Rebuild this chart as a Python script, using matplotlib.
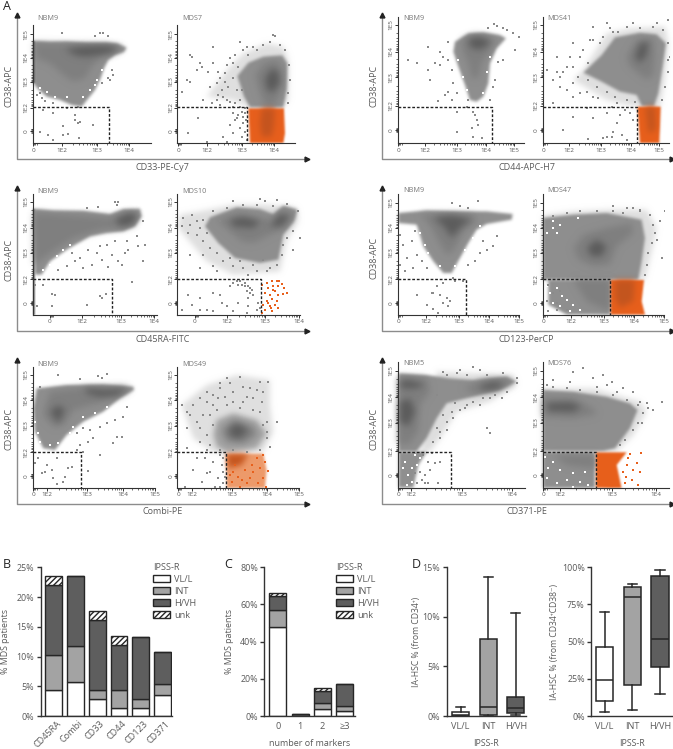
import numpy as np
import matplotlib
matplotlib.use('Agg')
import matplotlib.pyplot as plt
from matplotlib.patches import Patch
from matplotlib.transforms import ScaledTranslation

plt.rcParams['font.family'] = ['Open Sans', 'DejaVu Sans']
plt.rcParams['hatch.linewidth'] = 1.0

TXT = '#5a5a5a'
HALO, OUT, MID, DARK = '#dfdfdf', '#8f8f8f', '#7f7f7f', '#5c5c5c'
ORG, ORG_D = '#e8601c', '#c4551f'
W, H = 673, 749

############################## flow panels: channels ##############################
A1_OUT = [(100,122),(150,125),(200,124),(260,127),(320,127),(352,130),(380,143),(372,156),(345,165),(325,180),(312,205),(302,235),(285,270),(265,295),(245,320),(215,315),(180,300),(140,290),(112,265),(100,250)]
A1_MID = [(104,130),(200,132),(300,135),(365,140),(368,148),(335,160),(300,175),(275,200),(255,235),(220,245),(190,225),(150,190),(110,175)]
A1_DARK = [(195,147),(250,140),(320,137),(358,143),(335,158),(295,165),(255,170),(225,165)]
A1_STRIP = [(99,122),(106,122),(106,250),(99,250)]
A1_DOTS = [(187,100),(300,100),(310,98),(325,108),(285,107),(330,240),(340,225),(325,235),(305,250),(335,210),(120,280),(125,295),(110,285),(135,302),(160,310),(200,325),(235,320),(160,340),(225,345),(240,365),(235,370),(190,378),(205,403),(145,405),(120,395),(190,405),(237,415),(280,375),(160,420),(225,360),(130,330)]
A1_SPECK = [(120,265),(140,275),(165,290),(200,290),(250,290),(270,270),(290,240),(305,210),(285,255)]

A2_HALO = [(620,290),(690,200),(730,160),(800,130),(850,140),(865,180),(865,300),(850,322),(745,322),(700,300)]
A2_OUT = [(712,228),(745,188),(790,170),(847,166),(862,190),(860,270),(850,322),(750,322),(732,290)]
A2_MID = [(765,225),(790,190),(830,180),(850,210),(848,260),(825,320),(795,320),(780,280)]
A2_DARK = [(795,235),(815,205),(835,215),(840,250),(815,280),(800,265)]
A2_ORG = [(745,325),(852,325),(855,400),(850,430),(750,430)]
A2_ORG_D = [(785,325),(825,325),(822,375),(815,410),(785,410),(780,370)]
A2_DOTS = [(725,335),(715,345),(735,340),(705,360),(730,370),(720,385),(735,395),(700,400),(690,375),(725,410),(670,410),(680,425),(740,420),(595,355),(565,400),(620,425),(700,340),(712,355),(738,360),(728,352),(570,165),(600,190),(640,140),(720,125),(730,150),(825,108),(820,105),(655,215),(680,195),(630,260),(610,300),(560,240),(665,270),(680,300),(570,245),(545,275),
           (575,170),(590,210),(605,200),(625,215),(640,190),(650,250),(660,235),(675,220),(690,175),(705,165),(715,200),(700,235),(685,260),(670,290),(650,300),(635,310),(690,305),(705,310),(720,300),(725,270),(710,270),(740,140),(760,140),(790,135),(810,125),(840,135),(855,150),(868,195),(870,240),(865,280),(865,310),(720,320),(700,320),(735,325),(660,315),(655,285),(700,190),(675,245),(745,165),(770,150)]

A3_OUT = [(345,125),(385,100),(430,97),(480,105),(498,115),(470,145),(450,190),(445,250),(430,290),(410,305),(390,300),(375,255),(355,200),(340,155)]
A3_MID = [(365,120),(400,105),(470,115),(450,150),(425,190),(415,235),(395,235),(385,190),(370,160)]
A3_DARK = [(385,118),(415,110),(450,122),(445,135),(415,150),(390,140)]
A3_DOTS = [(500,90),(520,100),(462,72),(445,85),(490,85),(470,78),(537,110),(525,150),(265,140),(300,155),(285,190),(205,180),(230,190),(175,170),(265,210),(270,240),(325,125),(310,170),(325,180),(300,195),(335,210),(340,250),(325,275),(350,280),(295,302),(380,320),(400,335),(410,360),(395,385),(415,375),(350,395),(400,410),(425,415),(405,345),(460,260),(465,240),(475,185),(490,180),(450,300),(350,335),(385,300),(335,300),(315,285)]
A3_SPECK = [(355,180),(370,230),(380,270),(440,215),(450,170),(430,280)]

A4_HALO = [(730,210),(800,100),(870,85),(975,80),(985,130),(975,240),(960,320),(880,320),(800,300),(700,240)]
A4_OUT = [(730,218),(785,165),(825,112),(900,98),(950,103),(978,130),(968,200),(955,280),(942,318),(905,318),(890,285),(840,275),(785,245)]
A4_MID = [(860,170),(890,120),(940,115),(945,170),(940,225),(920,240),(870,200)]
A4_DARK = [(885,170),(900,130),(925,125),(920,165),(900,190)]
A4_ORG = [(892,320),(962,320),(958,430),(900,430)]
A4_ORG_D = [(915,320),(945,320),(948,390),(925,400)]
A4_DOTS = [(650,170),(620,210),(640,240),(680,200),(700,130),(760,80),(800,70),(880,68),(950,70),(985,60),(660,260),(700,290),(740,325),(700,350),(760,355),(800,340),(840,345),(830,370),(845,405),(820,395),(800,410),(790,415),(745,418),(670,390),(640,310),(720,280),(760,290),(830,310),(870,340),(855,330),(880,360),(860,420),(815,412),(985,180),(995,250),(750,120),(810,85),
           (730,150),(760,120),(790,110),(820,95),(860,80),(900,85),(940,80),(970,90),(985,130),(990,170),(985,215),(975,260),(965,300),(700,200),(715,230),(690,170),(670,215),(745,240),(770,260),(800,275),(825,290),(860,300),(885,305),(720,170),(745,190),(780,130),(700,250),(740,275),(775,295),(815,320),(650,215),(680,270),(660,230),(835,95)]

A5_OUT = [(100,92),(160,97),(250,98),(330,108),(370,93),(420,92),(425,115),(405,145),(370,160),(320,165),(270,175),(200,215),(150,250),(125,290),(105,290)]
A5_MID = [(104,105),(330,120),(370,110),(410,105),(405,135),(360,150),(300,155),(220,180),(150,225),(105,260)]
A5_DARK = [(345,125),(385,105),(415,110),(395,140),(360,145)]
A5_STRIP = [(99,92),(106,92),(106,410),(99,410)]
A5_DOTS = [(345,72),(355,72),(350,80),(260,90),(295,88),(215,225),(265,215),(300,205),(345,190),(380,190),(410,175),(415,205),(430,130),(435,200),(430,248),(305,245),(335,230),(355,250),(375,225),(385,215),(275,260),(225,250),(200,265),(250,270),(325,268),(365,260),(395,312),(130,320),(105,320),(155,348),(165,352),(155,385),(262,382),(300,355),(317,347),(112,385),(305,360),(240,240),(290,225),(320,200),(175,275)]
A5_SPECK = [(190,215),(170,235),(210,200),(150,260),(130,275)]

A6_HALO = [(540,110),(600,100),(700,80),(800,80),(890,90),(895,130),(860,190),(840,280),(700,290),(620,250),(560,180),(535,150)]
A6_OUT = [(630,118),(710,88),(780,93),(820,108),(850,83),(892,95),(882,130),(850,170),(835,245),(780,255),(705,240),(655,195),(615,145)]
A6_MID = [(650,125),(720,105),(790,120),(815,125),(850,95),(885,105),(860,145),(810,170),(760,195),(725,190),(690,160)]
A6_DARK_A = [(690,125),(730,118),(780,130),(760,150),(700,145)]
A6_DARK_B = [(810,145),(840,108),(870,115),(845,145)]
A6_ORG_DOTS = [(785,320),(800,315),(815,310),(830,310),(845,318),(852,330),(835,325),(820,325),(805,330),(795,345),(810,350),(825,340),(835,350),(850,348),(860,345),(815,362),(830,370),(800,370),(790,382),(810,385),(825,380),(835,390),(815,400),(795,395),(785,405),(812,390),(805,375),(838,310),(818,335)]
A6_DOTS = [(700,315),(715,320),(725,320),(735,315),(745,325),(690,325),(710,310),(740,340),(750,345),(760,350),(745,360),(775,375),(770,395),(780,390),(745,385),(740,405),(715,375),(700,400),(660,350),(640,345),(600,360),(565,350),(575,380),(600,395),(620,395),(640,400),(665,375),(680,385),(545,395),(735,325),(750,330),(720,310),(755,335),(650,280),(600,270),(570,230),(745,290),(770,280),(810,270),(880,215),(900,180),(905,225),(700,70),(780,62),(795,70),(830,65),
           (550,120),(570,140),(590,130),(610,125),(545,145),(565,165),(590,170),(610,190),(630,210),(650,225),(670,250),(700,265),(730,270),(760,260),(800,280),(830,260),(845,230),(860,180),(880,160),(640,100),(680,90),(730,80),(770,82),(820,85),(860,78),(895,100),(600,150),(575,110),(660,130),(620,165),(690,240),(720,250),(790,245),(850,200),(610,230),(640,265)]

A7_OUT = [(175,105),(260,97),(380,100),(440,100),(518,108),(515,125),(440,138),(410,155),(385,195),(360,240),(335,285),(310,285),(280,250),(250,205),(230,140),(175,135)]
A7_MID = [(240,110),(400,110),(410,130),(370,160),(340,220),(320,230),(295,190),(270,140)]
A7_DARK = [(280,118),(340,112),(395,125),(365,145),(335,180),(315,150),(300,135)]
A7_DOTS = [(337,75),(415,70),(360,85),(385,90),(180,170),(190,200),(215,190),(225,160),(200,240),(230,230),(245,250),(220,270),(260,270),(440,215),(430,190),(470,175),(460,205),(420,225),(405,250),(385,260),(340,300),(290,325),(280,345),(300,350),(275,345),(232,352),(260,382),(320,360),(330,370),(310,375),(325,385),(280,392),(295,405),(370,310),(345,310),(310,315),(180,260),(195,280)]
A7_SPECK = [(240,165),(255,200),(265,225),(300,265),(400,180),(375,215),(345,265),(420,145)]

A8_HALO = [(608,112),(700,100),(800,95),(920,95),(950,150),(940,200),(915,305),(608,305)]
A8_OUT = [(608,120),(700,110),(800,105),(905,125),(915,180),(905,250),(895,305),(812,305),(608,305),(608,250)]
A8_MID = [(700,210),(730,170),(800,150),(875,135),(880,165),(830,205),(810,260),(760,265),(715,245)]
A8_DARK = [(740,210),(770,185),(800,205),(785,235),(755,235)]
A8_LOW = [(625,305),(811,305),(811,410),(680,410),(625,380)]
A8_LOW_MID = [(700,305),(811,305),(811,400),(740,370)]
A8_ORG = [(812,306),(912,306),(905,370),(915,410),(812,410)]
A8_ORG_D = [(825,306),(885,306),(880,370),(840,390),(825,360)]
A8_DOTS = [(625,320),(640,345),(620,370),(650,375),(625,400),(660,340),(680,395),(610,350),(650,395),(960,130),(975,100),(965,240),(950,185),(820,85),(880,90),
           (640,115),(680,105),(720,100),(770,98),(820,100),(860,90),(900,95),(930,110),(940,140),(945,165),(935,195),(925,225),(920,260),(915,290),(900,100),(850,105)]
A8_SPECK = [(620,325),(630,345),(650,330),(665,355),(640,375),(615,395),(660,385),(680,365),(700,380),(690,400),(720,395),(640,150),(660,140),(620,165),(650,165),(640,130),(715,120)]

A9_OUT = [(110,100),(200,90),(310,88),(400,95),(402,105),(360,130),(310,170),(250,200),(200,240),(165,285),(130,280),(105,230),(100,160)]
A9_MID = [(150,110),(260,97),(370,95),(395,102),(350,125),(290,145),(220,165),(190,210),(160,215),(130,180),(140,140)]
A9_DARK_A = [(255,100),(320,105),(385,100),(350,122),(300,125),(260,115)]
A9_DARK_B = [(150,170),(175,150),(195,165),(175,205)]
A9_DOTS = [(175,60),(240,72),(295,62),(320,58),(305,70),(120,95),(380,155),(370,185),(345,195),(300,215),(320,205),(250,220),(270,225),(230,235),(280,250),(240,270),(265,260),(340,265),(367,247),(350,245),(300,300),(265,348),(215,335),(205,338),(170,310),(140,330),(135,350),(155,345),(125,355),(160,370),(195,365),(190,380),(170,388),(113,310),(105,325),(250,290),(230,285)]
A9_SPECK = [(120,260),(105,200),(115,235),(220,215),(250,185),(285,175),(150,270),(175,265),(320,155),(210,235)]

A10_HALO = [(545,150),(620,90),(710,60),(810,75),(810,150),(820,230),(790,290),(640,292),(580,250)]
A10_OUT = [(640,240),(650,195),(700,175),(770,195),(800,235),(770,280),(680,292),(650,275)]
A10_MID = [(665,225),(700,195),(760,215),(770,240),(730,265),(680,260)]
A10_DARK = [(685,225),(710,205),(745,225),(720,250),(695,245)]
A10_ORG = [(678,296),(790,296),(800,345),(795,400),(680,400)]
A10_ORG_D = [(680,297),(745,297),(725,330),(685,340)]
A10_ORG_DOTS = [(790,300),(795,320),(803,348),(790,370),(797,395),(740,385),(720,395),(700,350),(760,350),(770,310),(755,330),(735,345),(715,365),(695,380),(750,370),(775,385),(780,340),(725,375),(705,330),(690,360)]
A10_DOTS = [(660,300),(665,330),(670,350),(655,370),(670,385),(645,395),(620,355),(630,350),(590,310),(580,345),(605,380),(615,310),(555,395),(640,320),(660,395),(670,310),(675,365),(620,110),(680,70),(720,65),(780,80),(805,80),(660,100),(740,125),(760,130),(700,140),(640,150),(570,180),(545,150),(600,220),(560,280),(800,200),(830,200),(800,230),(780,170),
            (560,170),(580,150),(600,130),(620,140),(640,120),(660,85),(690,85),(700,110),(730,95),(750,100),(770,105),(790,110),(610,180),(630,180),(650,165),(680,150),(720,160),(760,165),(600,260),(620,240),(630,270),(590,200),(560,220),(800,250),(810,275),(780,285),(660,285),(700,285),(740,290),(620,285),(640,210),(790,210),(655,130),(675,125),(730,140),(785,140)]

A11_HALO = [(290,50),(520,60),(530,90),(450,140),(350,170),(300,250),(270,290),(240,290),(260,200),(280,130)]
A11_OUT = [(176,55),(260,60),(330,70),(400,75),(500,65),(530,80),(480,105),(400,125),(320,145),(290,190),(260,250),(230,290),(176,290)]
A11_LOW = [(176,290),(260,290),(235,330),(220,398),(176,398)]
A11_MID_A = [(176,65),(260,70),(270,110),(240,150),(235,230),(205,270),(176,265)]
A11_MID_B = [(370,100),(430,75),(500,72),(520,85),(470,105),(400,115)]
A11_DARK_A = [(180,80),(205,75),(255,88),(230,100),(185,100)]
A11_DARK_B = [(180,140),(210,130),(225,170),(205,215),(180,200)]
A11_DARK_C = [(415,95),(460,80),(495,85),(470,102),(430,105)]
A11_DOTS = [(250,300),(265,320),(240,350),(255,360),(245,375),(270,345),(285,325),(300,320),(295,385),(255,385),(275,295),(225,355),(265,385),(230,385),(450,235),(440,220),(310,50),(360,45),(420,45),(400,35),(340,190),(320,200),(300,230),(375,160),(420,150),(485,130),(530,70),
            (290,120),(320,60),(350,55),(380,60),(440,60),(490,55),(530,85),(500,110),(450,130),(400,140),(360,165),(335,170),(310,180),(290,220),(280,260),(300,250),(320,225),(345,145),(380,150),(430,130),(465,120)]
A11_SPECK = [(195,320),(215,340),(205,360),(230,330),(215,380),(200,390),(190,340),(240,310),(225,300)]

A12_HALO = [(608,100),(760,100),(900,140),(920,170),(880,240),(830,290),(608,290)]
A12_OUT = [(608,105),(700,110),(800,125),(870,145),(893,165),(870,220),(825,280),(790,288),(608,288)]
A12_MID = [(608,130),(700,130),(760,160),(770,178),(700,190),(608,185)]
A12_DARK = [(620,145),(690,142),(725,155),(700,170),(625,168)]
A12_LOW = [(608,292),(766,292),(766,398),(608,398)]
A12_LOW_MID = [(640,300),(766,300),(766,340),(680,330)]
A12_ORG = [(768,292),(860,292),(830,330),(845,400),(768,398)]
A12_ORG_DOTS = [(870,298),(902,295),(880,345),(890,325),(860,330),(850,350),(900,350),(855,385),(895,390),(875,375),(865,310),(858,365)]
A12_DOTS = [(700,50),(730,40),(640,75),(620,90),(760,70),(800,90),(850,100),(830,110),(900,140),(925,160),(965,140),(880,110),(905,205),(790,60),
            (640,95),(680,100),(720,105),(770,110),(820,120),(860,135),(895,150),(910,175),(895,205),(880,225),(855,255),(840,270),(610,80),(690,80),(770,95),(920,145),(940,165),(815,80)]
A12_SPECK = [(625,340),(640,320),(620,370),(650,385),(680,375),(700,355),(735,350),(745,390),(720,380),(660,345),(615,305),(700,395)]

# groups: crop origin, L axis corner, x label, y label
ROWS = [
    ((0, 0), 52, 478, 45, 920, 'CD33-PE-Cy7', (487, 503), (28, 258)),
    ((340, 0), 127, 478, 45, 995, 'CD44-APC-H7', (560, 503), (102, 258)),
    ((0, 178), 52, 460, 30, 920, 'CD45RA-FITC', (487, 484), (28, 245)),
    ((340, 178), 127, 460, 30, 995, 'CD123-PerCP', (560, 484), (102, 240)),
    ((0, 355), 52, 447, 15, 920, 'Combi-PE', (487, 471), (28, 222)),
    ((340, 355), 127, 447, 15, 995, 'CD371-PE', (560, 471), (102, 222)),
]
NAME_Y = {(0, 0): 57, (340, 0): 57, (0, 178): 40, (340, 178): 38, (0, 355): 27, (340, 355): 25}
XLAB4 = ['0', '1E2', '1E3', '1E4']
XLAB5 = ['0', '1E2', '1E3', '1E4', '1E5']
YLAB = ['1E5', '1E4', '1E3', '1E2', '0']
Y_ROW1 = [103, 173, 246, 323, 392]
Y_ROW1R = [75, 155, 232, 317, 390]
Y_ROW2 = [72, 149, 224, 304, 375]
Y_ROW2R = [75, 149, 224, 304, 375]
Y_ROW3 = [60, 136, 212, 291, 362]
Y_ROW3R = [48, 127, 203, 289, 360]

# name, crop, left, right, top, bottom, xticks, xlabels, yticks, gate(x,y), layers, dots, orange dots, white specks
PANELS = [
    ('NBM9', (0, 0), 98, 452, 75, 430, [100, 187, 292, 388], XLAB4, Y_ROW1, (328, 322),
     [(OUT, A1_OUT), (MID, A1_MID), (DARK, A1_DARK), ('#666666', A1_STRIP)], A1_DOTS, [], A1_SPECK),
    ('MDS7', (0, 0), 532, 886, 75, 430, [534, 622, 727, 822], XLAB4, Y_ROW1, (742, 322),
     [(HALO, A2_HALO), (OUT, A2_OUT), (MID, A2_MID), (DARK, A2_DARK), (ORG, A2_ORG), (ORG_D, A2_ORG_D)], A2_DOTS, [], []),
    ('NBM9', (340, 0), 174, 552, 50, 430, [175, 254, 350, 438, 522], XLAB5, Y_ROW1R, (455, 322),
     [(OUT, A3_OUT), (MID, A3_MID), (DARK, A3_DARK)], A3_DOTS, [], A3_SPECK),
    ('MDS41', (340, 0), 608, 988, 50, 430, [610, 688, 784, 872, 956], XLAB5, Y_ROW1R, (890, 322),
     [(HALO, A4_HALO), (OUT, A4_OUT), (MID, A4_MID), (DARK, A4_DARK), (ORG, A4_ORG), (ORG_D, A4_ORG_D)], A4_DOTS, [], []),
    ('NBM9', (0, 178), 98, 470, 48, 410, [150, 247, 362, 463], XLAB4, Y_ROW2, (335, 304),
     [(OUT, A5_OUT), (MID, A5_MID), (DARK, A5_DARK), ('#777777', A5_STRIP)], A5_DOTS, [], A5_SPECK),
    ('MDS10', (0, 178), 532, 900, 48, 410, [584, 681, 796, 897], XLAB4, Y_ROW2, (784, 304),
     [(HALO, A6_HALO), (OUT, A6_OUT), (MID, A6_MID), (DARK, A6_DARK_A), (DARK, A6_DARK_B)], A6_DOTS, A6_ORG_DOTS, []),
    ('NBM9', (340, 178), 174, 538, 48, 410, [175, 258, 358, 448, 538], XLAB5, Y_ROW2R, (378, 304),
     [(OUT, A7_OUT), (MID, A7_MID), (DARK, A7_DARK)], A7_DOTS, [], A7_SPECK),
    ('MDS47', (340, 178), 608, 972, 48, 410, [610, 692, 792, 882, 972], XLAB5, Y_ROW2R, (811, 304),
     [(HALO, A8_HALO), (OUT, A8_OUT), (MID, A8_MID), (DARK, A8_DARK), (OUT, A8_LOW), (MID, A8_LOW_MID), (ORG, A8_ORG), (ORG_D, A8_ORG_D)], A8_DOTS, [], A8_SPECK),
    ('NBM9', (0, 355), 98, 464, 35, 400, [100, 141, 260, 368, 464], XLAB5, Y_ROW3, (244, 291),
     [(OUT, A9_OUT), (MID, A9_MID), (DARK, A9_DARK_A), (DARK, A9_DARK_B)], A9_DOTS, [], A9_SPECK),
    ('MDS49', (0, 355), 532, 898, 35, 400, [534, 575, 695, 802, 898], XLAB5, Y_ROW3, (678, 291),
     [(HALO, A10_HALO), ('#a2a2a2', A10_OUT), (MID, A10_MID), (DARK, A10_DARK), ('#ee9a6a', A10_ORG), (ORG_D, A10_ORG_D)], A10_DOTS, A10_ORG_DOTS, []),
    ('NBM5', (340, 355), 174, 555, 20, 398, [175, 212, 365, 515], XLAB4, Y_ROW3R, (332, 290),
     [(HALO, A11_HALO), (OUT, A11_OUT), (OUT, A11_LOW), (MID, A11_MID_A), (MID, A11_MID_B), (DARK, A11_DARK_A), (DARK, A11_DARK_B), (DARK, A11_DARK_C)], A11_DOTS, [], A11_SPECK),
    ('MDS76', (340, 355), 608, 988, 20, 398, [610, 660, 815, 948], XLAB4, Y_ROW3R, (767, 290),
     [(HALO, A12_HALO), (OUT, A12_OUT), (MID, A12_MID), (DARK, A12_DARK), (OUT, A12_LOW), (MID, A12_LOW_MID), (ORG, A12_ORG)], A12_DOTS, A12_ORG_DOTS, A12_SPECK),
]
BLUR = {HALO: 16, OUT: 4, MID: 24, DARK: 24, ORG: 2, ORG_D: 18, '#a2a2a2': 16, '#ee9a6a': 3, '#666666': 1, '#777777': 1}

################################ bars and boxes ##################################
B_CATS = ['CD45RA', 'Combi', 'CD33', 'CD44', 'CD123', 'CD371']
B_LOW = [4.3, 5.8, 2.9, 1.4, 1.4, 3.5]
B_INT = [5.9, 5.9, 1.5, 3.0, 1.5, 1.8]
B_HIGH = [11.8, 11.8, 11.8, 7.6, 10.4, 5.5]
B_UNK = [1.5, 0, 1.5, 1.5, 0, 0]

C_CATS = ['0', '1', '2', '≥3']
C_LOW = [48, 0, 4, 2.5]
C_INT = [9, 0, 3, 3]
C_HIGH = [7.5, 1.3, 6.5, 11.8]
C_UNK = [1.5, 0, 1.5, 0]

D_CATS = ['VL/L', 'INT', 'H/VH']
D1_WLO = [0, 0.03, 0.07]
D1_Q1 = [0.03, 0.1, 0.27]
D1_MED = [0.07, 0.88, 0.84]
D1_Q3 = [0.44, 7.8, 1.95]
D1_WHI = [0.94, 14.0, 10.4]
D2_WLO = [2.9, 3.8, 14.8]
D2_Q1 = [9.9, 20.6, 33]
D2_MED = [24, 80, 52]
D2_Q3 = [46.6, 86.8, 94]
D2_WHI = [70.2, 89, 98]

C_WHITE, C_GREY, C_DGREY = 'white', '#a3a3a3', '#5e5e5e'


def soften(n):
    # blur so the nested polygons look like a density cloud
    def flt(im, dpi):
        pad = int(4 * n ** 0.5) + 4
        a = np.pad(im[..., 3], pad)
        for _ in range(n):
            a = (2 * a + np.roll(a, 1, 0) + np.roll(a, -1, 0)) / 4
            a = (2 * a + np.roll(a, 1, 1) + np.roll(a, -1, 1)) / 4
        out = np.zeros(a.shape + (4,))
        mask = im[..., 3] > 0.5
        if mask.any():
            out[..., :3] = im[mask][:, :3].mean(axis=0)
        out[..., 3] = a
        return out, -pad, -pad
    return flt


def minor_ticks(pos):
    res = []
    for a, b in zip(pos[:-1], pos[1:]):
        res += [a + (b - a) * np.log10(k) for k in range(2, 10)]
    return res


def add_ax(l, t, r, b):
    return fig.add_axes([l / W, 1 - b / H, (r - l) / W, (b - t) / H])


fig = plt.figure(figsize=(W / 100, H / 100), dpi=100)

over = fig.add_axes([0, 0, 1, 1], zorder=-1)
over.set_xlim(0, W)
over.set_ylim(H, 0)
over.axis('off')

for crop, x0, y0, y1, x1, xlab, xpos, ypos in ROWS:
    cx, cy = crop
    over.plot([cx + x0 / 3, cx + x0 / 3, cx + x1 / 3], [cy + y1 / 3, cy + y0 / 3, cy + y0 / 3], color='#8c8c8c', lw=1)
    over.plot(cx + x0 / 3, cy + y1 / 3, '^', color='#222222', ms=3.5)
    over.plot(cx + x1 / 3, cy + y0 / 3, '>', color='#222222', ms=3.5)
    over.text(cx + xpos[0] / 3, cy + xpos[1] / 3, xlab, color=TXT, fontsize=6.5, ha='center', va='center')
    over.text(cx + ypos[0] / 3, cy + ypos[1] / 3, 'CD38-APC', color=TXT, fontsize=6.5, ha='center', va='center', rotation=90)

for name, crop, l, r, t, b, xt, xl, yt, gate, layers, dots, odots, specks in PANELS:
    cx, cy = crop
    ax = add_ax(cx + l / 3, cy + t / 3, cx + r / 3, cy + b / 3)
    ax.set_xlim(l, r)
    ax.set_ylim(b, t)
    ax.patch.set_alpha(0)
    for sp in ['top', 'right']:
        ax.spines[sp].set_visible(False)
    for sp in ['left', 'bottom']:
        ax.spines[sp].set_color('#333333')
        ax.spines[sp].set_linewidth(0.8)
    ax.set_xticks(xt, xl)
    ax.set_yticks(yt, YLAB, rotation=90, va='center')
    ax.set_xticks(minor_ticks(xt[1:]) + [xt[0] + d for d in (3, 6, 10)], minor=True)
    ax.set_yticks(minor_ticks(yt[:-1]) + [yt[-1] + d for d in (-6, -4, -2, 2, 4, 6)], minor=True)
    ax.tick_params(which='major', length=2, width=0.7, color='#333333', labelsize=4.6, labelcolor=TXT, pad=1)
    ax.tick_params(which='minor', length=1.1, width=0.5, color='#333333')
    for col, poly in layers:
        p = ax.fill(*zip(*poly), color=col, lw=0)[0]
        p.set_agg_filter(soften(BLUR[col]))
        p.set_rasterized(True)
    if specks:
        ax.scatter(*zip(*specks), s=1.2, marker='s', color='white', linewidths=0)
    if dots:
        ax.scatter(*zip(*dots), s=1.0, marker='s', color='#8a8a8a', linewidths=0)
    if odots:
        ax.scatter(*zip(*odots), s=2.2, marker='s', color=ORG, linewidths=0)
    ax.plot([l, gate[0], gate[0]], [gate[1], gate[1], b], color='#222222', lw=1, ls=(0, (2, 1.3)))
    ax.text(l + 15, NAME_Y[crop], name, color='#777777', fontsize=5.2, ha='left', va='center', clip_on=False)


def style_axis(ax):
    for sp in ['top', 'right']:
        ax.spines[sp].set_visible(False)
    for sp in ['left', 'bottom']:
        ax.spines[sp].set_color('#333333')
        ax.spines[sp].set_linewidth(1)
    ax.tick_params(axis='y', length=3, width=1, color='#333333', labelsize=6.4, labelcolor=TXT, pad=1.5)
    ax.tick_params(axis='x', length=0, labelsize=6.6, labelcolor=TXT)


def stacked(ax, low, med, high, unk, width):
    x = np.arange(len(low))
    b2 = np.array(low)
    b3 = b2 + np.array(med)
    b4 = b3 + np.array(high)
    kw = dict(width=width, edgecolor='#262626', linewidth=1)
    ax.bar(x, low, color=C_WHITE, **kw)
    ax.bar(x, med, bottom=b2, color=C_GREY, **kw)
    ax.bar(x, high, bottom=b3, color=C_DGREY, **kw)
    ax.bar(x, unk, bottom=b4, color='white', hatch='//////', **kw)


def legend(ax, px, py):
    kw = dict(edgecolor='#262626', linewidth=1)
    h = [Patch(facecolor=C_WHITE, label='VL/L', **kw), Patch(facecolor=C_GREY, label='INT', **kw),
         Patch(facecolor=C_DGREY, label='H/VH', **kw), Patch(facecolor='white', hatch='//////', label='unk', **kw)]
    leg = ax.legend(handles=h, title='IPSS-R', alignment='left', frameon=False, fontsize=6.6, title_fontsize=6.6,
                    loc='upper left', bbox_to_anchor=(px / W, 1 - py / H), bbox_transform=fig.transFigure,
                    borderaxespad=0, borderpad=0, handlelength=1.85, handleheight=0.8, handletextpad=0.45,
                    labelspacing=0.32, labelcolor=TXT)
    leg.get_title().set_color(TXT)


def place_labels(ax, l, r, ylab_px=None, xlab_py=None):
    # put axis labels at the pixel spots seen in the reference
    if ylab_px is not None:
        ax.yaxis.label.set_va('center')
        ax.yaxis.set_label_coords((ylab_px - l) / (r - l), 0.5)
    if xlab_py is not None:
        ax.xaxis.label.set_va('center')
        ax.xaxis.set_label_coords(0.5, (716 - xlab_py) / 148.7)


# B
axb = add_ax(40.7, 567.3, 172, 716)
stacked(axb, B_LOW, B_INT, B_HIGH, B_UNK, 0.77)
axb.set_xlim(-0.583, 5.43)
axb.set_ylim(0, 25)
axb.set_yticks([0, 5, 10, 15, 20, 25], ['0%', '5%', '10%', '15%', '20%', '25%'])
axb.set_xticks(range(6), B_CATS, rotation=45, ha='right', rotation_mode='anchor')
style_axis(axb)
axb.tick_params(axis='x', pad=2)
for lab in axb.get_xticklabels():
    lab.set_transform(lab.get_transform() + ScaledTranslation(3 / 100, 0, fig.dpi_scale_trans))
axb.set_ylabel('% MDS patients', color=TXT, fontsize=6.4)
place_labels(axb, 40.7, 172, ylab_px=5.5)
legend(axb, 153, 563)

# C
axc = add_ax(264.3, 567.3, 354.5, 716)
stacked(axc, C_LOW, C_INT, C_HIGH, C_UNK, 0.76)
axc.set_xlim(-0.604, 3.425)
axc.set_ylim(0, 80)
axc.set_yticks([0, 20, 40, 60, 80], ['0%', '20%', '40%', '60%', '80%'])
axc.set_xticks(range(4), C_CATS)
style_axis(axc)
axc.tick_params(axis='x', pad=4)
axc.set_xlabel('number of markers', color=TXT, fontsize=6.5)
axc.set_ylabel('% MDS patients', color=TXT, fontsize=6.4)
place_labels(axc, 264.3, 354.5, ylab_px=229.3, xlab_py=743.7)
legend(axc, 336, 563)


def boxes(ax, wlo, q1, med, q3, whi):
    stats = [dict(whislo=wlo[i], q1=q1[i], med=med[i], q3=q3[i], whishi=whi[i], label=D_CATS[i]) for i in range(3)]
    lk = dict(color='#262626', linewidth=1.1)
    bp = ax.bxp(stats, positions=[0, 1, 2], widths=0.63, capwidths=0.34, patch_artist=True, showfliers=False,
                boxprops=dict(edgecolor='#262626', linewidth=1.1), medianprops=lk, whiskerprops=lk, capprops=lk)
    for patch, col in zip(bp['boxes'], [C_WHITE, C_GREY, C_DGREY]):
        patch.set_facecolor(col)
    style_axis(ax)


# D
axd1 = add_ax(446.7, 567.3, 526, 716)
boxes(axd1, D1_WLO, D1_Q1, D1_MED, D1_Q3, D1_WHI)
axd1.set_xlim(-0.507, 2.37)
axd1.set_ylim(0, 15)
axd1.set_yticks([0, 5, 10, 15], ['0%', '5%', '10%', '15%'])
axd1.tick_params(axis='x', pad=4)
axd1.set_xlabel('IPSS-R', color=TXT, fontsize=6.4)
axd1.set_ylabel('IA-HSC % (from CD34⁺)', color=TXT, fontsize=6.2)
place_labels(axd1, 446.7, 526, ylab_px=416.7, xlab_py=743.7)

axd2 = add_ax(591, 567.3, 672, 716)
boxes(axd2, D2_WLO, D2_Q1, D2_MED, D2_Q3, D2_WHI)
axd2.set_xlim(-0.494, 2.44)
axd2.set_ylim(0, 100)
axd2.set_yticks([0, 25, 50, 75, 100], ['0%', '25%', '50%', '75%', '100%'])
axd2.tick_params(axis='x', pad=4)
axd2.set_xlabel('IPSS-R', color=TXT, fontsize=6.4)
axd2.set_ylabel('IA-HSC % (from CD34⁺CD38⁻)', color=TXT, fontsize=6.2)
place_labels(axd2, 591, 672, ylab_px=554, xlab_py=743.7)

for letter, px, py in [('A', 7, 7), ('B', 7, 565), ('C', 228, 565), ('D', 416, 565)]:
    over.text(px, py, letter, color='#222222', fontsize=9, ha='center', va='center')

fig.savefig('out.png', dpi=100)
